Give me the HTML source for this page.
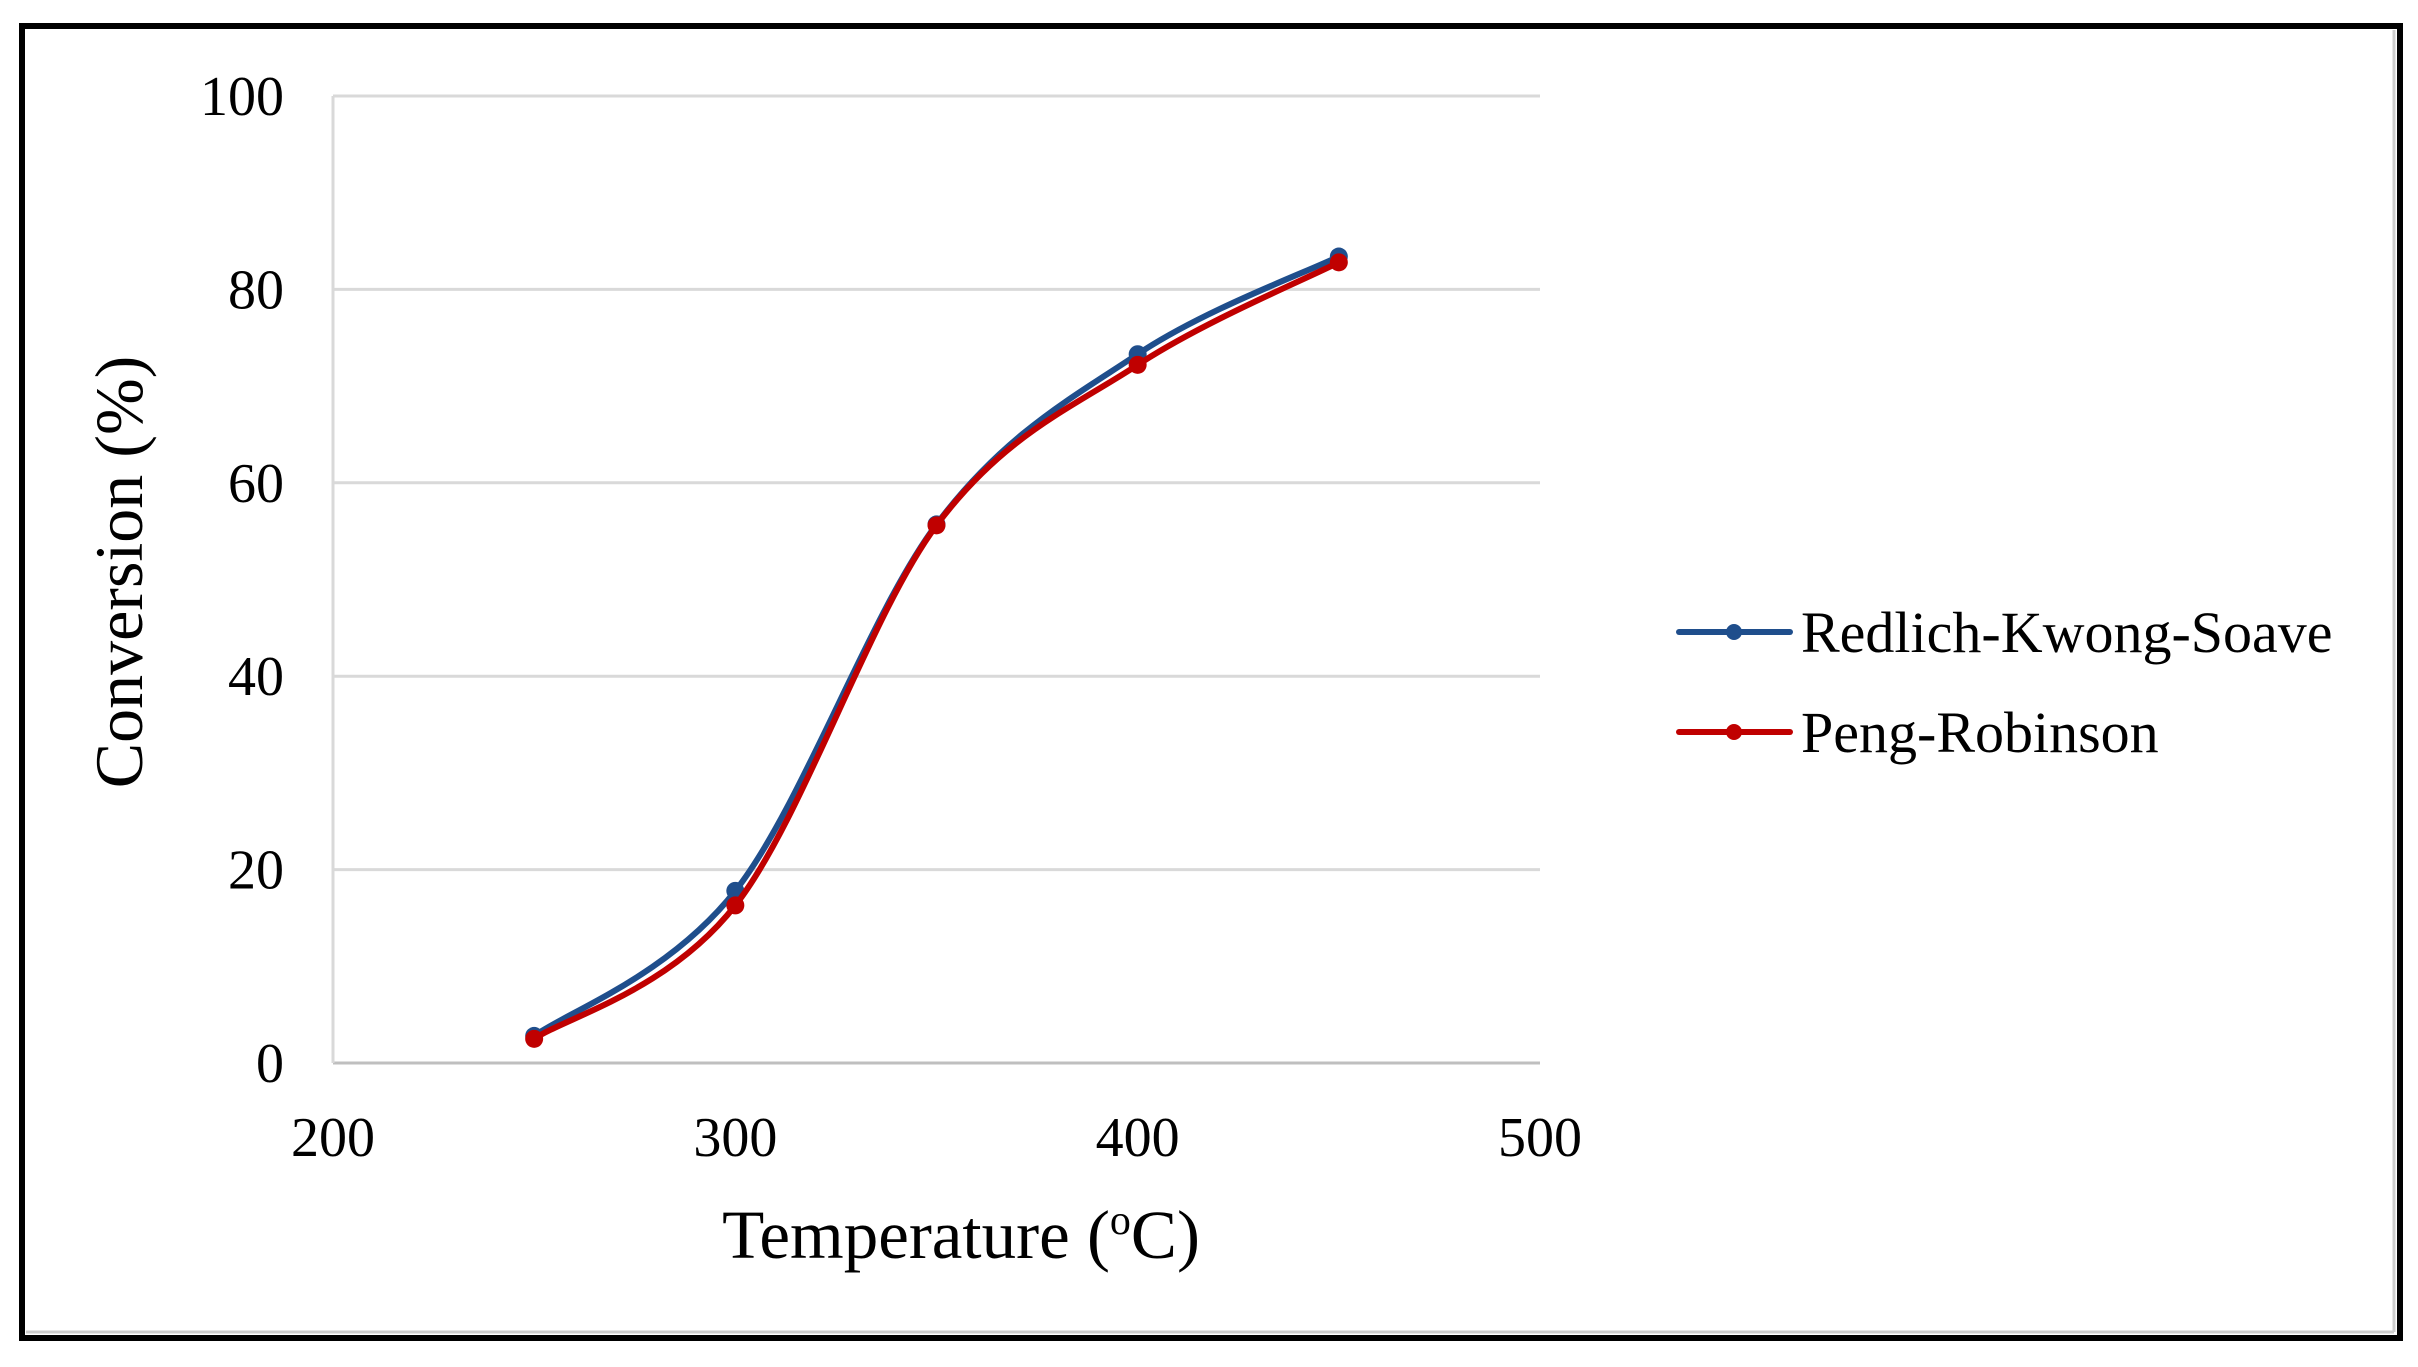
<!DOCTYPE html>
<html><head><meta charset="utf-8"><style>
html,body{margin:0;padding:0;background:#fff;}
svg{display:block;font-family:"Liberation Serif",serif;}
</style></head><body>
<svg id="chart" width="2418" height="1367" viewBox="0 0 2418 1367">
<rect x="22" y="26" width="2378" height="1312" fill="#fff" stroke="#000" stroke-width="6"/>
<line x1="2394" y1="30" x2="2394" y2="1332" stroke="#ccc" stroke-width="3"/>
<line x1="26" y1="1332" x2="2394" y2="1332" stroke="#ccc" stroke-width="3"/>
<g id="grid"></g>
<g id="axes"></g>
<g id="series"></g>
<text x="961" y="1258" font-size="69" text-anchor="middle">Temperature (<tspan font-size="42" dy="-24">o</tspan><tspan dy="24">C)</tspan></text>
<text transform="translate(142,572) rotate(-90)" font-size="68" text-anchor="middle">Conversion (%)</text>
<g>
<g>
<line x1="1679" y1="632" x2="1790" y2="632" stroke="#1F4E8C" stroke-width="6" stroke-linecap="round"/>
<circle cx="1734" cy="632" r="8" fill="#1F4E8C"/>
<text x="1801" y="652" font-size="58">Redlich-Kwong-Soave</text>
</g>
<g>
<line x1="1679" y1="732" x2="1790" y2="732" stroke="#C00000" stroke-width="6" stroke-linecap="round"/>
<circle cx="1734" cy="732" r="8" fill="#C00000"/>
<text x="1801" y="752" font-size="58">Peng-Robinson</text>
</g>
</g>
</svg>
<script>
const temps = [250, 300, 350, 400, 450];
const rksValues = [2.8, 17.8, 55.7, 73.3, 83.4];
const prValues = [2.5, 16.3, 55.6, 72.2, 82.8];
const xTicks = [200, 300, 400, 500];
const yTicks = [0, 20, 40, 60, 80, 100];

const NS = "http://www.w3.org/2000/svg";
const X0 = 333, X1 = 1540, Y0 = 1063, Y1 = 96;
const xs = v => X0 + (v - 200) / 300 * (X1 - X0);
const ys = v => Y0 - v / 100 * (Y0 - Y1);
function mk(tag, attrs, parent) {
  const e = document.createElementNS(NS, tag);
  for (const k in attrs) e.setAttribute(k, attrs[k]);
  parent.appendChild(e);
  return e;
}
const grid = document.getElementById('grid');
const axes = document.getElementById('axes');
const series = document.getElementById('series');
yTicks.forEach(t => {
  const l = mk('line', {x1: X0, x2: X1, y1: ys(t), y2: ys(t), stroke: t === 0 ? '#bfbfbf' : '#d9d9d9', 'stroke-width': 3}, grid);
  
  
  const tx = mk('text', {x: 284, y: ys(t) + 19, 'font-size': 56, 'text-anchor': 'end'}, axes);
  tx.textContent = t;
  
  
});
const yl = mk('line', {x1: X0, x2: X0, y1: Y1, y2: Y0, stroke: '#d9d9d9', 'stroke-width': 3}, axes);


xTicks.forEach(t => {
  const tx = mk('text', {x: xs(t), y: 1156, 'font-size': 56, 'text-anchor': 'middle'}, axes);
  tx.textContent = t;
  
  
});
function smoothPath(xv, yv) {
  const p = xv.map((x, i) => [xs(x), ys(yv[i])]);
  let d = 'M' + p[0][0] + ',' + p[0][1];
  for (let i = 0; i < p.length - 1; i++) {
    const p0 = p[i - 1] || p[i], p1 = p[i], p2 = p[i + 1], p3 = p[i + 2] || p2;
    const t = 1 / 6;
    const c1 = [p1[0] + (p2[0] - p0[0]) * t, p1[1] + (p2[1] - p0[1]) * t];
    const c2 = [p2[0] - (p3[0] - p1[0]) * t, p2[1] - (p3[1] - p1[1]) * t];
    d += ' C' + c1 + ' ' + c2 + ' ' + p2;
  }
  return d;
}
[[rksValues, '#1F4E8C', 'rks'], [prValues, '#C00000', 'pr']].forEach(([vals, col, nm]) => {
  const path = mk('path', {d: smoothPath(temps, vals), fill: 'none', stroke: col, 'stroke-width': 6, 'stroke-linecap': 'round'}, series);
  
  
  temps.forEach((t, i) => {
    const c = mk('circle', {cx: xs(t), cy: ys(vals[i]), r: 9, fill: col}, series);
    
    
  });
});
</script>
</body></html>
